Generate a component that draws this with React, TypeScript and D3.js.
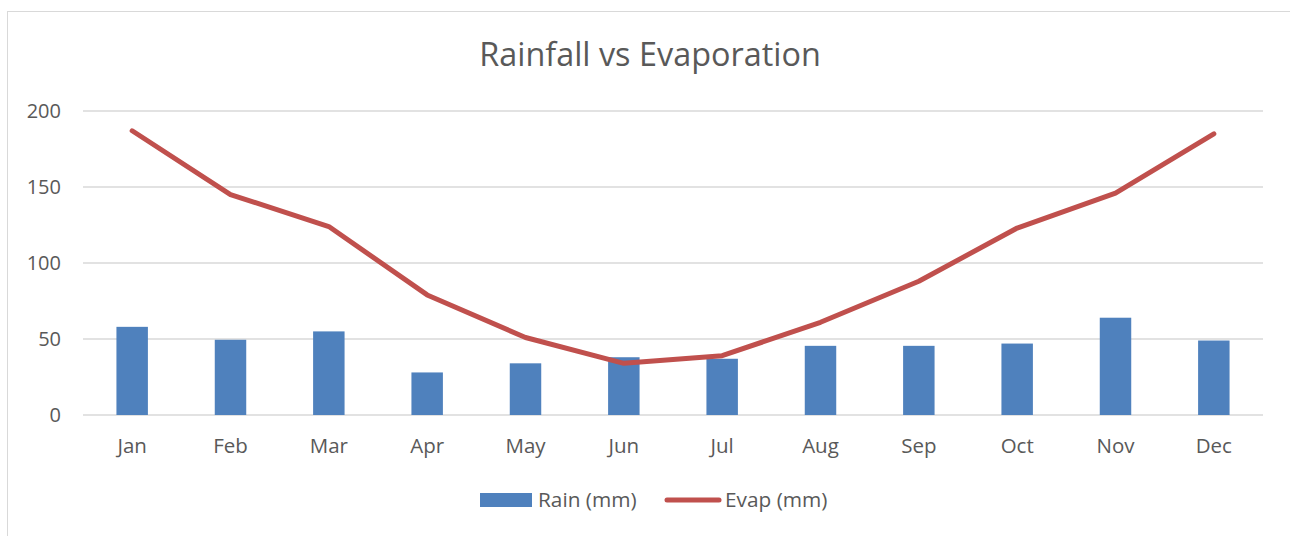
import React from "react";
import * as d3 from "d3";

const months = ["Jan", "Feb", "Mar", "Apr", "May", "Jun", "Jul", "Aug", "Sep", "Oct", "Nov", "Dec"];
const rain = [58, 49.5, 55, 28, 34, 38, 37, 45.5, 45.5, 47, 64, 49];
const evap = [187, 145, 124, 79, 51, 34, 39, 61, 88, 123, 146, 185];
const yTicks = [0, 50, 100, 150, 200];
const title = "Rainfall vs Evaporation";
const seriesNames = ["Rain (mm)", "Evap (mm)"];

const W = 1290;
const H = 536;
const FONT = "'Open Sans', Lato, sans-serif";
const TXT = "#595959";

export default function App() {
  const left = 83, right = 1263, top = 111, bottom = 415;
  const x = d3.scaleBand<string>().domain(months).range([left, right]).paddingInner(0.68).paddingOuter(0.34);
  const xc = (m: string) => (x(m) as number) + x.bandwidth() / 2;
  const y = d3.scaleLinear().domain([0, 200]).range([bottom, top]);
  const line = d3.line<number>().x((_, i) => xc(months[i])).y((d) => y(d));

  return (
    <svg width={W} height={H} style={{ position: "absolute", left: 0, top: 0, background: "#fff" }}>
      <rect x={7.5} y={11.5} width={1290} height={540} fill="#fff" stroke="#D9D9D9" strokeWidth={1} />
      <text x={650} y={66} textAnchor="middle" fontFamily={FONT} fontSize={32.4} fill={TXT}>{title}</text>
      {yTicks.map((t) => (
        <g key={t}>
          <line x1={left} x2={right} y1={y(t)} y2={y(t)} stroke="#D9D9D9" strokeWidth={1.5} />
          <text x={61} y={y(t) + 7} textAnchor="end" fontFamily={FONT} fontSize={20} fill={TXT}>{t}</text>
        </g>
      ))}
      {months.map((m, i) => (
        <g key={m}>
          <rect x={x(m)} y={y(rain[i])} width={x.bandwidth()} height={y(0) - y(rain[i])} fill="#4F81BD" />
          <text x={xc(m)} y={453} textAnchor="middle" fontFamily={FONT} fontSize={20.5} fill={TXT}>{m}</text>
        </g>
      ))}
      <path d={line(evap) as string} fill="none" stroke="#C0504D" strokeWidth={5} strokeLinejoin="round" strokeLinecap="round" />
      <rect x={480} y={493} width={52} height={14} fill="#4F81BD" />
      <text x={538} y={507} fontFamily={FONT} fontSize={20.8} fill={TXT}>{seriesNames[0]}</text>
      <line x1={667} x2={719} y1={500} y2={500} stroke="#C0504D" strokeWidth={5} strokeLinecap="round" />
      <text x={725} y={507} fontFamily={FONT} fontSize={20.8} fill={TXT}>{seriesNames[1]}</text>
    </svg>
  );
}
